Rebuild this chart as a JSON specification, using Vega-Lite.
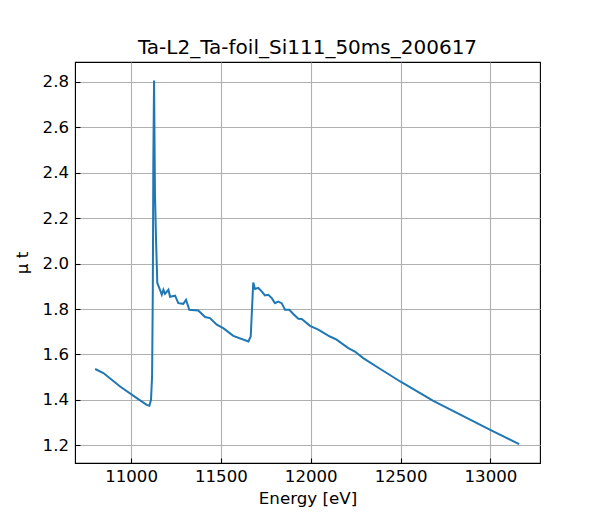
{
  "$schema": "https://vega.github.io/schema/vega-lite/v6.json",
  "width": 465,
  "height": 401,
  "autosize": {"type": "none"},
  "padding": {"left": 75, "top": 62, "right": 60, "bottom": 57},
  "background": "white",
  "title": {
    "text": "Ta-L2_Ta-foil_Si111_50ms_200617",
    "font": "DejaVu Sans",
    "fontSize": 20,
    "fontWeight": "normal",
    "color": "black",
    "offset": 4
  },
  "config": {
    "view": {"stroke": "black", "strokeWidth": 1.1},
    "axis": {
      "labelFont": "DejaVu Sans",
      "titleFont": "DejaVu Sans",
      "labelFontSize": 16.6,
      "titleFontSize": 16.7,
      "titleFontWeight": "normal",
      "labelColor": "black",
      "titleColor": "black",
      "domainColor": "black",
      "tickColor": "black",
      "tickSize": -5,
      "tickWidth": 1.1,
      "labelPadding": 10,
      "gridColor": "#b0b0b0",
      "gridWidth": 1.1,
      "gridOpacity": 1
    }
  },
  "data": {
    "values": [
      {"energy": 10800, "mu": 1.536},
      {"energy": 10846, "mu": 1.518},
      {"energy": 10939, "mu": 1.459},
      {"energy": 11032, "mu": 1.408},
      {"energy": 11087, "mu": 1.378},
      {"energy": 11102, "mu": 1.374},
      {"energy": 11111, "mu": 1.4},
      {"energy": 11117, "mu": 1.503},
      {"energy": 11121, "mu": 1.872},
      {"energy": 11124, "mu": 2.458},
      {"energy": 11128, "mu": 2.807},
      {"energy": 11133, "mu": 2.312},
      {"energy": 11139, "mu": 2.105},
      {"energy": 11146, "mu": 1.915},
      {"energy": 11161, "mu": 1.885},
      {"energy": 11171, "mu": 1.863},
      {"energy": 11180, "mu": 1.885},
      {"energy": 11189, "mu": 1.867},
      {"energy": 11208, "mu": 1.885},
      {"energy": 11217, "mu": 1.854},
      {"energy": 11245, "mu": 1.859},
      {"energy": 11263, "mu": 1.826},
      {"energy": 11291, "mu": 1.823},
      {"energy": 11306, "mu": 1.841},
      {"energy": 11324, "mu": 1.797},
      {"energy": 11374, "mu": 1.794},
      {"energy": 11412, "mu": 1.765},
      {"energy": 11439, "mu": 1.76},
      {"energy": 11477, "mu": 1.731},
      {"energy": 11513, "mu": 1.716},
      {"energy": 11569, "mu": 1.682},
      {"energy": 11653, "mu": 1.657},
      {"energy": 11666, "mu": 1.679},
      {"energy": 11680, "mu": 1.917},
      {"energy": 11690, "mu": 1.888},
      {"energy": 11708, "mu": 1.893},
      {"energy": 11727, "mu": 1.878},
      {"energy": 11745, "mu": 1.86},
      {"energy": 11764, "mu": 1.863},
      {"energy": 11783, "mu": 1.848},
      {"energy": 11801, "mu": 1.826},
      {"energy": 11819, "mu": 1.833},
      {"energy": 11838, "mu": 1.826},
      {"energy": 11857, "mu": 1.797},
      {"energy": 11881, "mu": 1.797},
      {"energy": 11903, "mu": 1.778},
      {"energy": 11931, "mu": 1.757},
      {"energy": 11950, "mu": 1.756},
      {"energy": 11996, "mu": 1.726},
      {"energy": 12042, "mu": 1.709},
      {"energy": 12107, "mu": 1.679},
      {"energy": 12144, "mu": 1.665},
      {"energy": 12209, "mu": 1.628},
      {"energy": 12246, "mu": 1.613},
      {"energy": 12292, "mu": 1.584},
      {"energy": 12385, "mu": 1.537},
      {"energy": 12498, "mu": 1.481},
      {"energy": 12682, "mu": 1.396},
      {"energy": 12999, "mu": 1.268},
      {"energy": 13160, "mu": 1.205}
    ]
  },
  "mark": {"type": "line", "color": "#1f77b4", "strokeWidth": 2, "interpolate": "linear"},
  "encoding": {
    "x": {
      "field": "energy",
      "type": "quantitative",
      "scale": {"domain": [10688, 13276], "nice": false, "zero": false},
      "axis": {
        "title": "Energy [eV]",
        "values": [11000, 11500, 12000, 12500, 13000],
        "format": "d",
        "titlePadding": 6
      }
    },
    "y": {
      "field": "mu",
      "type": "quantitative",
      "scale": {"domain": [1.122, 2.888], "nice": false, "zero": false},
      "axis": {
        "title": "μ t",
        "values": [1.2, 1.4, 1.6, 1.8, 2.0, 2.2, 2.4, 2.6, 2.8],
        "format": ".1f",
        "labelPadding": 11.5,
        "titlePadding": 11
      }
    }
  }
}
